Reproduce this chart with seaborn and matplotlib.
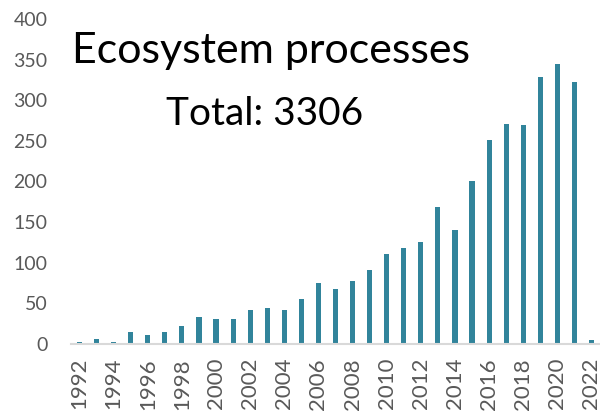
import matplotlib
matplotlib.use("Agg")
import matplotlib.pyplot as plt
import seaborn as sns
import pandas as pd

# Publications per year
years = list(range(1992, 2023))
counts = [2, 6, 2, 15, 11, 15, 22, 33, 31, 31, 42, 44, 42, 55, 75, 68, 78, 91,
          111, 118, 126, 168, 140, 200, 251, 271, 270, 329, 344, 322, 5]
title = "Ecosystem processes"
subtitle = "Total: 3306"
yticks = [0, 50, 100, 150, 200, 250, 300, 350, 400]

df = pd.DataFrame({"Year": [str(y) for y in years], "Count": counts})

sns.set_style("white")
plt.rcParams["font.family"] = ["Lato", "DejaVu Sans"]

fig = plt.figure(figsize=(6, 4.11), dpi=100)
ax = fig.add_axes([71 / 600, 1 - 344 / 411, 1 - 71 / 600, (344 - 19) / 411])

sns.barplot(data=df, x="Year", y="Count", ax=ax, color="#31849B",
            width=0.3, saturation=1, edgecolor="none")

ax.set_ylim(0, 400)
ax.set_yticks(yticks)
ax.set_xlim(-0.5, len(years) - 0.5)
ax.set_xticks(range(0, len(years), 2))
ax.set_xticklabels([str(y) for y in years[::2]], rotation=90)
ax.set_xlabel("")
ax.set_ylabel("")
ax.tick_params(axis="both", length=0, labelcolor="#595959")
ax.tick_params(axis="y", pad=17, labelsize=14)
ax.tick_params(axis="x", pad=10, labelsize=16)
sns.despine(ax=ax, left=True)
ax.spines["bottom"].set_color("#D9D9D9")
ax.spines["bottom"].set_linewidth(1.5)

fig.text(271 / 600, 1 - 63 / 411, title, ha="center", va="baseline",
         fontsize=31, color="black")
fig.text(265 / 600, 1 - 125 / 411, subtitle, ha="center", va="baseline",
         fontsize=28, color="black")

fig.savefig("out.png", dpi=100)
